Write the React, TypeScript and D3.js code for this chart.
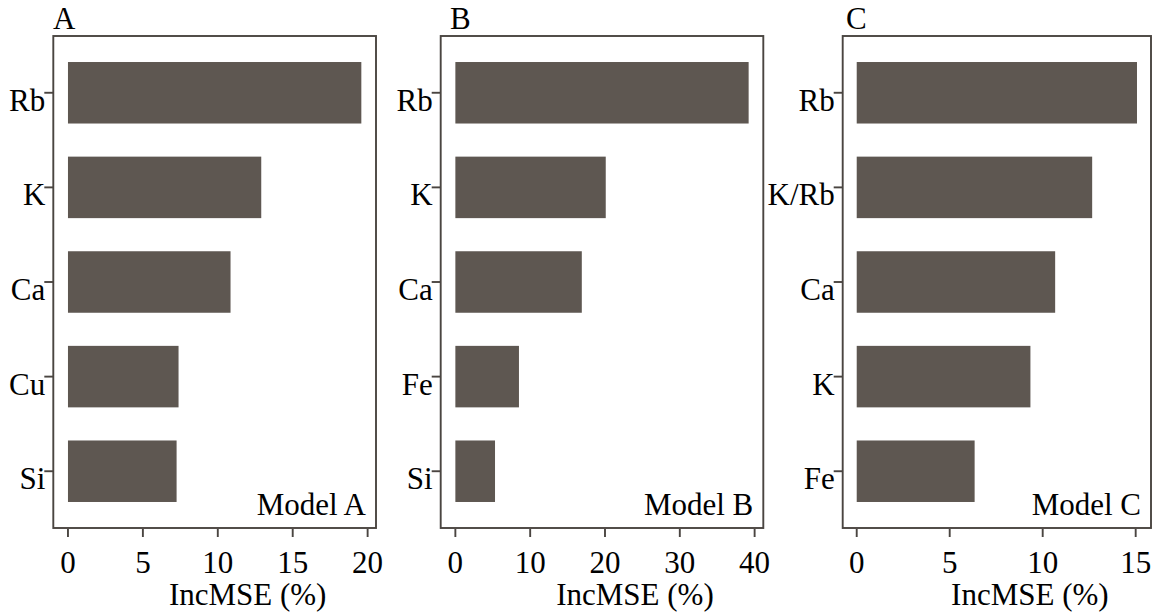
import React from "react";
import * as d3 from "d3";

// Variable importance (IncMSE, %) for each random-forest model
const modelACategories = ["Rb", "K", "Ca", "Cu", "Si"];
const modelAValues = [19.58, 12.9, 10.85, 7.38, 7.25];

const modelBCategories = ["Rb", "K", "Ca", "Fe", "Si"];
const modelBValues = [39.2, 20.1, 16.9, 8.5, 5.3];

const modelCCategories = ["Rb", "K/Rb", "Ca", "K", "Fe"];
const modelCValues = [15.07, 12.66, 10.67, 9.34, 6.34];

const modelATicks = [0, 5, 10, 15, 20];
const modelBTicks = [0, 10, 20, 30, 40];
const modelCTicks = [0, 5, 10, 15];

const panelTags = ["A", "B", "C"];
const modelNames = ["Model A", "Model B", "Model C"];
const axisTitle = "IncMSE (%)";

const BAR_FILL = "#5E5751";
const FRAME = "#4A4541";
const FONT = "Liberation Serif, Times New Roman, serif";
const FS = 31;

const TOP = 36;
const BOTTOM = 528;

type PanelProps = {
  tag: string;
  name: string;
  categories: string[];
  values: number[];
  ticks: number[];
  left: number;
  right: number;
  tagX: number;
};

function Panel({ tag, name, categories, values, ticks, left, right, tagX }: PanelProps) {
  const max = d3.max(values) ?? 1;
  // 5% expansion on both ends of the value axis
  const x = d3
    .scaleLinear()
    .domain([-0.05 * max, 1.05 * max])
    .range([left, right]);
  const y = d3
    .scaleBand<string>()
    .domain(categories)
    .range([TOP, BOTTOM])
    .paddingInner(0.35)
    .paddingOuter(0.275);
  const centre = (left + right) / 2;
  const textStyle = { fontFamily: FONT, fontSize: FS, fill: "#000" };

  return (
    <g>
      <text x={tagX} y={29} style={textStyle}>
        {tag}
      </text>
      {categories.map((c, i) => (
        <rect
          key={c}
          x={x(0)}
          y={y(c)!}
          width={x(values[i]) - x(0)}
          height={y.bandwidth()}
          fill={BAR_FILL}
        />
      ))}
      <rect
        x={left}
        y={TOP}
        width={right - left}
        height={BOTTOM - TOP}
        fill="none"
        stroke={FRAME}
        strokeWidth={1.9}
      />
      {categories.map((c) => {
        const cy = y(c)! + y.bandwidth() / 2;
        return (
          <g key={"yt" + c}>
            <line x1={left - 9} x2={left} y1={cy} y2={cy} stroke={FRAME} strokeWidth={1.9} />
            <text x={left - 8} y={cy + 18} textAnchor="end" style={textStyle}>
              {c}
            </text>
          </g>
        );
      })}
      {ticks.map((t) => (
        <g key={"xt" + t}>
          <line x1={x(t)} x2={x(t)} y1={BOTTOM + 1} y2={BOTTOM + 9} stroke={FRAME} strokeWidth={1.9} />
          <text x={x(t)} y={573} textAnchor="middle" style={textStyle}>
            {t}
          </text>
        </g>
      ))}
      <text x={centre + 33} y={605} textAnchor="middle" style={textStyle}>
        {axisTitle}
      </text>
      <text x={right - 10} y={515} textAnchor="end" style={textStyle}>
        {name}
      </text>
    </g>
  );
}

export default function App() {
  const panels = [
    { categories: modelACategories, values: modelAValues, ticks: modelATicks, left: 53.3, right: 376, tagX: 53 },
    { categories: modelBCategories, values: modelBValues, ticks: modelBTicks, left: 440.7, right: 763.3, tagX: 450 },
    { categories: modelCCategories, values: modelCValues, ticks: modelCTicks, left: 842.7, right: 1151, tagX: 846 },
  ];
  return (
    <svg
      width={1167}
      height={613}
      style={{ position: "absolute", left: 0, top: 0, background: "#fff" }}
    >
      <rect width={1167} height={613} fill="#fff" />
      {panels.map((p, i) => (
        <Panel key={panelTags[i]} tag={panelTags[i]} name={modelNames[i]} {...p} />
      ))}
    </svg>
  );
}
